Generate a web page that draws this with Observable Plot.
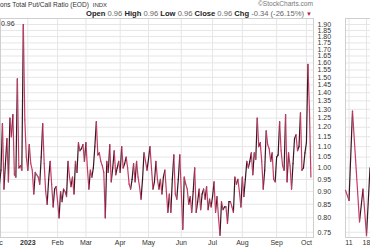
<!DOCTYPE html>
<html><head><meta charset="utf-8">
<script src="https://cdn.jsdelivr.net/npm/d3@7"></script>
<script src="https://cdn.jsdelivr.net/npm/@observablehq/plot@0.6"></script>
<style>
body{margin:0;background:#fff;}
#wrap{position:relative;width:370px;height:250px;overflow:hidden;font-family:"Liberation Sans",Arial,sans-serif;background:#fff;}
.t{position:absolute;white-space:nowrap;color:#222;line-height:1;}
#main{position:absolute;left:0;top:0;width:370px;height:250px;}
#side{position:absolute;left:345px;top:0;width:60px;height:250px;}
.n{color:#666;font-weight:normal;}
</style></head><body>
<div id="wrap">
 <div id="main"></div><div id="side"></div>
 <div class="t" style="left:0;top:2px;font-size:6.6px;color:#333">ons Total Put/Call Ratio (EOD) <span style="font-size:6px;margin-left:2px">INDX</span></div>
 <div class="t" style="right:57px;top:1px;font-size:6.6px;color:#777;text-align:right">©StockCharts.com</div>
 <div class="t" style="right:58px;top:10px;font-size:7.6px;text-align:right"><b>Open</b> <span class="n">0.96</span> <b>High</b> <span class="n">0.96</span> <b>Low</b> <span class="n">0.96</span> <b>Close</b> <span class="n">0.96</span> <b>Chg</b> <span class="n">-0.34 (-26.15%)</span> <span style="color:#c0213c;font-size:6px">▼</span></div>
 <div class="t" style="left:1px;top:20px;font-size:7px;color:#333">0.96</div>
</div>
<script>
// trading-day index 0 = first trading day of Jan 2023
const startIdx = -19;
const ratio = [
0.93,0.99,1.22,0.91,1.02,1.14,0.94,1.25,1.15,1.27,0.97,0.96,1.49,1.00,1.01,0.99,1.90,1.24,1.05,
0.99,1.11,1.02,0.99,0.89,0.98,0.97,0.96,0.93,1.05,1.22,1.02,0.90,0.85,0.95,1.03,0.93,0.84,0.91,0.92,
0.86,0.80,0.90,0.86,0.91,0.90,0.88,1.03,0.96,0.92,0.96,0.89,1.03,0.98,1.12,1.08,1.09,1.11,1.03,1.12,
1.00,0.91,0.99,0.96,1.00,1.10,1.23,1.06,1.07,1.03,1.01,0.98,0.80,1.03,0.98,1.11,0.94,1.00,1.08,0.97,
1.00,1.03,0.98,1.10,1.00,1.02,1.05,1.00,0.93,0.91,0.95,1.02,0.94,1.03,0.96,0.92,0.87,0.95,1.07,1.03,
0.99,1.04,1.10,1.00,0.91,0.94,1.03,0.95,0.91,0.95,0.89,0.96,0.99,0.90,0.82,0.89,0.82,0.95,1.06,0.89,
0.87,0.95,1.06,0.90,0.76,0.96,0.93,0.91,0.85,0.88,0.82,0.90,1.00,0.82,0.86,0.91,0.83,0.89,0.91,0.87,
0.92,0.83,0.87,0.84,0.88,0.94,0.82,0.88,0.80,0.74,0.86,0.83,0.84,0.84,0.78,0.86,0.86,0.84,0.82,0.96,
0.93,0.95,0.90,0.84,0.96,0.88,0.95,1.03,1.00,1.03,1.07,0.97,1.07,1.04,1.25,1.10,1.12,1.03,0.91,0.99,
1.18,1.11,1.09,1.03,1.07,0.95,0.94,1.05,1.06,1.23,1.08,1.01,0.99,1.27,0.94,1.07,1.01,0.91,1.02,1.14,
1.16,1.08,1.10,1.28,0.99,1.00,1.07,1.12,1.59,1.30,0.96
];
const monthIdx = [-21, 0, 20, 39, 62, 81, 103, 124, 144, 167, 187];
const monthLabels = ["Dec", "2023", "Feb", "Mar", "Apr", "May", "Jun", "Jul", "Aug", "Sep", "Oct"];
const yTicks = [0.75,0.80,0.85,0.90,0.95,1.00,1.05,1.10,1.15,1.20,1.25,1.30,1.35,1.40,1.45,1.50,1.55,1.60,1.65,1.70,1.75,1.80,1.85,1.90];
const yTickLabels = ["0.75","0.80","0.85","0.90","0.95","1.00","1.05","1.10","1.15","1.20","1.25","1.30","1.35","1.40","1.45","1.50","1.55","1.60","1.65","1.70","1.75","1.80","1.85","1.90"];
// side panel (recent weeks)
const sideIdx = [0, 1, 2, 4, 5, 6, 7];
const sideVals = [0.905, 0.865, 1.29, 0.786, 0.91, 0.739, 1.00];
const sideTickIdx = [1, 6];
const sideTickLabels = ["11", "18"];

const upColor = "#3a1522", downColor = "#c63a62", grid = "#e6e6e6";
const yDomain = [0.7326, 1.9517];
const font = "'Liberation Sans', Arial, sans-serif";

function segments(xs, vs) {
  const s = [];
  for (let k = 1; k < vs.length; k++) s.push({x1: xs[k-1], y1: vs[k-1], x2: xs[k], y2: vs[k], up: vs[k] >= vs[k-1]});
  return s;
}
const idx = ratio.map((_, k) => startIdx + k);
const segs = segments(idx, ratio);
const yLab = yTicks.map((v, k) => ({v, t: yTickLabels[k]}));
const xLab = monthIdx.map((m, k) => ({m, t: monthLabels[k], bold: monthLabels[k] === "2023"}));

const main = Plot.plot({
  width: 370, height: 250,
  marginLeft: 0, marginRight: 57, marginTop: 18, marginBottom: 13,
  style: {fontFamily: font, background: "transparent", overflow: "visible"},
  x: {type: "linear", domain: [-18.32, 191.74], axis: null},
  y: {type: "log", domain: yDomain, axis: null},
  marks: [
    Plot.ruleY(yTicks, {y: d => d, stroke: grid, strokeWidth: 1}),
    Plot.ruleX(monthIdx.filter(m => m >= 0), {x: d => d, stroke: grid, strokeWidth: 1}),
    Plot.frame({stroke: "#cfcfcf"}),
    Plot.link(segs.filter(d => d.up), {x1: "x1", y1: "y1", x2: "x2", y2: "y2", stroke: upColor, strokeWidth: 1.2, strokeLinecap: "round", clip: true}),
    Plot.link(segs.filter(d => !d.up), {x1: "x1", y1: "y1", x2: "x2", y2: "y2", stroke: downColor, strokeWidth: 1.2, strokeLinecap: "round", clip: true}),
    Plot.text(yLab, {y: "v", text: "t", frameAnchor: "right", dx: 4, textAnchor: "start", fontSize: 7, fill: "#333"}),
    Plot.text(xLab.filter(d => !d.bold), {x: "m", text: "t", frameAnchor: "bottom", lineAnchor: "top", dy: 3, fontSize: 7, fill: "#333"}),
    Plot.text(xLab.filter(d => d.bold), {x: "m", text: "t", frameAnchor: "bottom", lineAnchor: "top", dy: 3, fontSize: 7, fontWeight: "bold", fill: "#333"})
  ]
});
document.getElementById("main").appendChild(main);

const sideSegs = segments(sideIdx, sideVals);
const sideLab = sideTickIdx.map((j, k) => ({j, t: sideTickLabels[k]}));
const side = Plot.plot({
  width: 60, height: 250,
  marginLeft: 0, marginRight: 0, marginTop: 18, marginBottom: 13,
  style: {fontFamily: font, background: "transparent", overflow: "visible"},
  x: {type: "linear", domain: [0, 60 / 3.5], axis: null},
  y: {type: "log", domain: yDomain, axis: null},
  marks: [
    Plot.ruleY(yTicks, {y: d => d, stroke: grid}),
    Plot.ruleX(sideTickIdx, {x: d => d, stroke: grid}),
    Plot.frame({stroke: "#cfcfcf"}),
    Plot.link(sideSegs.filter(d => d.up), {x1: "x1", y1: "y1", x2: "x2", y2: "y2", stroke: upColor, strokeWidth: 1.2, strokeLinecap: "round"}),
    Plot.link(sideSegs.filter(d => !d.up), {x1: "x1", y1: "y1", x2: "x2", y2: "y2", stroke: downColor, strokeWidth: 1.2, strokeLinecap: "round"}),
    Plot.text(sideLab, {x: "j", text: "t", frameAnchor: "bottom", lineAnchor: "top", dy: 3, fontSize: 7, fill: "#333"})
  ]
});
document.getElementById("side").appendChild(side);
</script>
</body></html>
